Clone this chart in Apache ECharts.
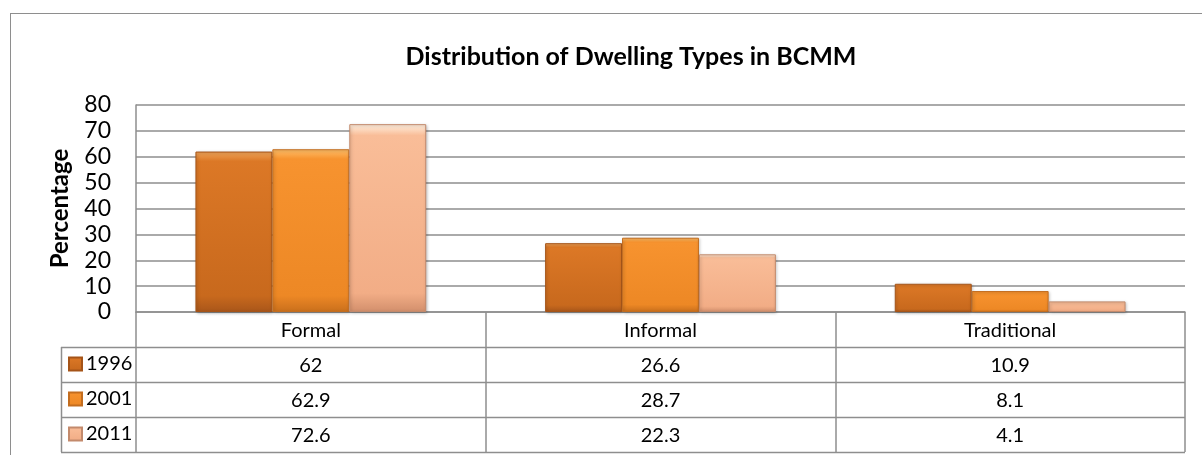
<!DOCTYPE html>
<html>
<head>
<meta charset="utf-8">
<title>Distribution of Dwelling Types in BCMM</title>
<script src="https://cdn.jsdelivr.net/npm/echarts@6/dist/echarts.min.js"></script>
<style>
  html, body { margin: 0; padding: 0; background: #ffffff; }
  #chart { width: 1202px; height: 455px; }
</style>
</head>
<body>
<div id="chart"></div>
<script>
// Dwelling type shares (%) per census year
const categories = ['Formal', 'Informal', 'Traditional'];
const years = ['1996', '2001', '2011'];
const values1996 = [62, 26.6, 10.9];
const values2001 = [62.9, 28.7, 8.1];
const values2011 = [72.6, 22.3, 4.1];
const yTicks = { min: 0, max: 80, interval: 10 };

const seriesValues = [values1996, values2001, values2011];

const FONT = 'Lato, "Noto Sans", sans-serif';
const LINE = '#8e8e8e';
const ROW_H = 35;

// bevel-like vertical gradients for each year
const palettes = [
  { top: '#f0a55a', mid: '#dc7826', low: '#c8691d', bot: '#a9561a', border: '#a55418' },
  { top: '#ffc06a', mid: '#f7932f', low: '#ed8825', bot: '#c96f1c', border: '#c36d1f' },
  { top: '#fff0e0', mid: '#f9bd98', low: '#f2ad86', bot: '#d28f6c', border: '#c38a6c' }
];

function bevel(p) {
  return new echarts.graphic.LinearGradient(0, 0, 0, 1, [
    { offset: 0, color: p.top },
    { offset: 0.06, color: p.mid },
    { offset: 0.9, color: p.low },
    { offset: 1, color: p.bot }
  ]);
}

const chart = echarts.init(document.getElementById('chart'), null, { renderer: 'canvas' });

const series = years.map((y, i) => ({
  name: y,
  type: 'bar',
  data: seriesValues[i],
  barGap: '0%',
  barCategoryGap: '34%',
  itemStyle: {
    color: bevel(palettes[i]),
    borderColor: palettes[i].border,
    borderWidth: 1,
    shadowBlur: 3,
    shadowOffsetX: 1,
    shadowOffsetY: 1,
    shadowColor: 'rgba(0,0,0,0.25)'
  },
  emphasis: { disabled: true }
}));

// axis label holds the category name plus one row per year
function tableLabel(value, idx) {
  const rows = ['{c|' + value + '}'];
  seriesValues.forEach(arr => rows.push('{v|' + arr[idx] + '}'));
  return rows.join('\n');
}

const gridLeft = 136, gridRight = 17, gridTop = 105, gridBottom = 143;
const axisY = 455 - gridBottom;
const tableLeft = 61;
const tableRight = 1202 - gridRight;

const graphics = [
  // outer frame
  { type: 'line', shape: { x1: 10, y1: 13.5, x2: 1202, y2: 13.5 }, style: { stroke: LINE, lineWidth: 1 }, silent: true },
  { type: 'line', shape: { x1: 10.5, y1: 13, x2: 10.5, y2: 455 }, style: { stroke: LINE, lineWidth: 1 }, silent: true },
  // data table left column edge
  { type: 'line', shape: { x1: tableLeft + 0.5, y1: axisY + ROW_H, x2: tableLeft + 0.5, y2: axisY + ROW_H * 4 }, style: { stroke: LINE, lineWidth: 1.5 }, silent: true }
];
for (let r = 1; r <= 4; r++) {
  const yy = axisY + ROW_H * r + 0.5;
  graphics.push({ type: 'line', shape: { x1: tableLeft, y1: yy, x2: tableRight, y2: yy }, style: { stroke: LINE, lineWidth: 1.5 }, silent: true });
}

chart.setOption({
  animation: false,
  backgroundColor: '#ffffff',
  title: {
    text: 'Distribution of Dwelling Types in BCMM',
    left: 626,
    textAlign: 'center',
    top: 39,
    textStyle: { fontFamily: FONT, fontWeight: 'bold', fontSize: 25, color: '#000000' }
  },
  legend: {
    data: years,
    orient: 'vertical',
    left: 68,
    top: axisY + ROW_H + 6,
    padding: 0,
    itemWidth: 13,
    itemHeight: 13,
    itemGap: ROW_H - 22,
    icon: 'rect',
    selectedMode: false,
    textStyle: { fontFamily: FONT, fontSize: 20, color: '#000000', lineHeight: 20, padding: [2, 0, 0, -1] }
  },
  grid: { left: gridLeft, right: gridRight, top: gridTop, bottom: gridBottom, containLabel: false },
  xAxis: {
    type: 'category',
    data: categories,
    axisLine: { show: true, lineStyle: { color: LINE, width: 1.5 } },
    axisTick: { show: true, inside: false, length: ROW_H * 4, lineStyle: { color: LINE, width: 1.5 } },
    axisLabel: {
      margin: 1,
      interval: 0,
      formatter: tableLabel,
      rich: {
        c: { fontFamily: FONT, fontSize: 20, lineHeight: ROW_H, color: '#000000' },
        v: { fontFamily: FONT, fontSize: 20, lineHeight: ROW_H, color: '#000000' }
      }
    }
  },
  yAxis: {
    type: 'value',
    min: yTicks.min,
    max: yTicks.max,
    interval: yTicks.interval,
    name: 'Percentage',
    nameLocation: 'middle',
    nameGap: 64,
    nameTextStyle: { fontFamily: FONT, fontWeight: 'bold', fontSize: 24, color: '#000000' },
    axisLine: { show: true, lineStyle: { color: LINE, width: 1.5 } },
    axisTick: { show: false },
    axisLabel: { fontFamily: FONT, fontSize: 23, color: '#000000', margin: 25 },
    splitLine: { show: true, lineStyle: { color: LINE, width: 1.5 } }
  },
  series: series,
  graphic: graphics
});
</script>
</body>
</html>
